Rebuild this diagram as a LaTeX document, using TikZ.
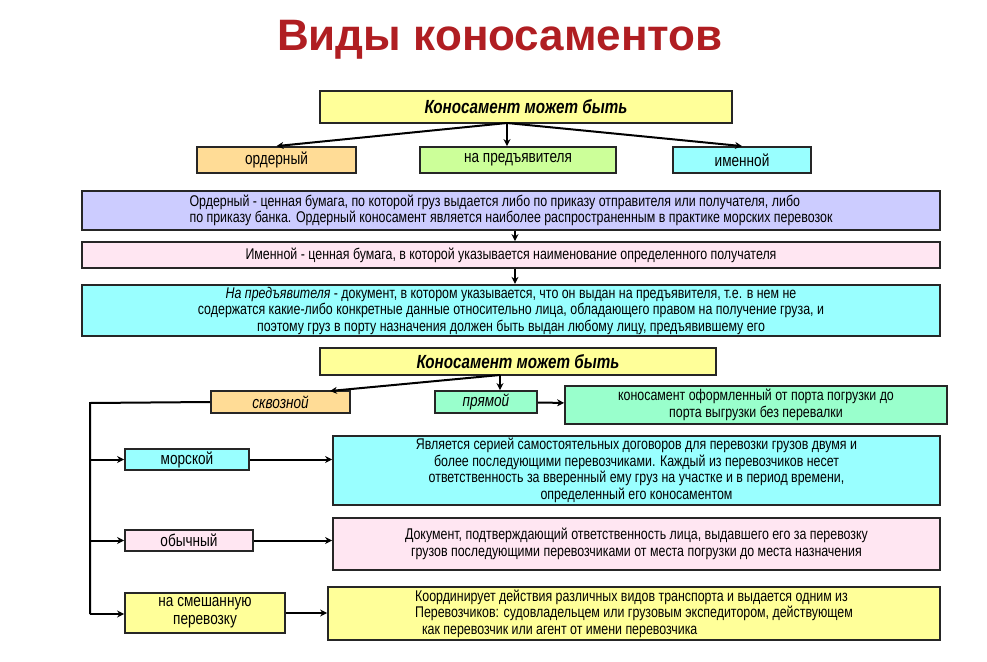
\documentclass[tikz,border=0pt]{standalone}
\usepackage{fontspec}
\setmainfont[FakeStretch=0.8]{Liberation Sans}
\newfontfamily\titlefont{Liberation Sans}
\usetikzlibrary{arrows.meta}
\definecolor{cyel}{HTML}{FFFF99}
\definecolor{ctan}{HTML}{FFDC96}
\definecolor{cgrn}{HTML}{CCFF99}
\definecolor{ccyan}{HTML}{99FFFF}
\definecolor{clav}{HTML}{CCCCFF}
\definecolor{cpink}{HTML}{FFE6F2}
\definecolor{cmint}{HTML}{99FFCC}
\definecolor{ctitle}{HTML}{B01E22}
\tikzset{
 box/.style={draw=black!85, line width=1.8pt, inner sep=2pt, align=center, font=\fontsize{15.5}{16.5}\selectfont},
 lab/.style={box, font=\fontsize{17}{19}\selectfont},
 head/.style={box, fill=cyel, font=\bfseries\itshape\fontsize{19}{21}\selectfont},
 conn/.style={line width=2pt, -{Stealth[length=7pt,width=7pt]}},
 line/.style={line width=2pt}
}
\begin{document}
\begin{tikzpicture}[x=1pt,y=-1pt]
\useasboundingbox (0,0) rectangle (987,661);
\node[font=\titlefont\bfseries\fontsize{44}{50}\selectfont, text=ctitle] (title) at (500,40) {Виды коносаментов};
% part 1
\node[head, minimum width=412, minimum height=32] (t1) at (526,107) {Коносамент может быть};
\node[lab, fill=ctan, minimum width=159, minimum height=26] (a1) at (276.5,160) {ордерный};
\node[lab, fill=cgrn, minimum width=196, minimum height=26] (a2) at (518,160) {на предъявителя};
\node[lab, fill=ccyan, minimum width=138, minimum height=26] (a3) at (742,160) {именной};
\coordinate (t1s) at (507,123);
\draw[conn] (t1s) -- (a1.north);
\draw[conn] (t1s) -- (a2.north -| t1s);
\draw[conn] (t1s) -- (a3.north);
\node[box, fill=clav, minimum width=858, minimum height=39, align=left] (d1) at (511,210.5) {Ордерный - ценная бумага, по которой груз выдается либо по приказу отправителя или получателя, либо\\по приказу банка. Ордерный коносамент является наиболее распространенным в практике морских перевозок};
\node[box, fill=cpink, minimum width=858, minimum height=26] (d2) at (511,255) {Именной - ценная бумага, в которой указывается наименование определенного получателя};
\node[box, fill=ccyan, minimum width=858, minimum height=51] (d3) at (511,310.5) {\textit{На предъявителя} - документ, в котором указывается, что он выдан на предъявителя, т.е. в нем не\\содержатся какие-либо конкретные данные относительно лица, обладающего правом на получение груза, и\\поэтому груз в порту назначения должен быть выдан любому лицу, предъявившему его};
\draw[conn] (d1.south -| 515,0) -- (d2.north -| 515,0);
\draw[conn] (d2.south -| 515,0) -- (d3.north -| 515,0);
% part 2
\node[head, minimum width=396, minimum height=27] (t2) at (518,361.5) {Коносамент может быть};
\node[lab, fill=ctan, minimum width=139, minimum height=22, font=\itshape\fontsize{17}{19}\selectfont] (s) at (280.5,402) {сквозной};
\node[lab, fill=cmint, minimum width=102, minimum height=22, font=\itshape\fontsize{17}{19}\selectfont] (p) at (486,402) {прямой};
\node[box, fill=cmint, minimum width=382, minimum height=38] (pd) at (756,405) {коносамент оформленный от порта погрузки до\\порта выгрузки без перевалки};
\coordinate (t2s) at (500,375);
\draw[conn] (t2s) -- (330,391);
\draw[conn] (t2s) -- (p.north -| t2s);
\draw[conn] (p) -- (pd);
\node[lab, fill=ccyan, minimum width=124, minimum height=21] (m) at (187,459.5) {морской};
\node[box, fill=ccyan, minimum width=607, minimum height=69] (md) at (636.5,470.5) {Является серией самостоятельных договоров для перевозки грузов двумя и\\более последующими перевозчиками. Каждый из перевозчиков несет\\ответственность за вверенный ему груз на участке и в период времени,\\определенный его коносаментом};
\node[lab, fill=cpink, minimum width=128, minimum height=21] (o) at (189,540.5) {обычный};
\node[box, fill=cpink, minimum width=607, minimum height=52] (od) at (636.5,544) {Документ, подтверждающий ответственность лица, выдавшего его за перевозку\\грузов последующими перевозчиками от места погрузки до места назначения};
\node[lab, fill=cyel, minimum width=160, minimum height=40, font=\fontsize{17}{18}\selectfont] (c) at (205,613) {на смешанную\\перевозку};
\node[box, fill=cyel, minimum width=612, minimum height=53, align=left] (cd) at (634,613.5) {Координирует действия различных видов транспорта и выдается одним из\\Перевозчиков: судовладельцем или грузовым экспедитором, действующем\\\ \ как перевозчик или агент от имени перевозчика};
\coordinate (lv) at (90,403);
\coordinate (lb) at (90,614);
\draw[line] (s.west) -- (lv) -- (lb);
\draw[conn] (lv |- m.west) -- (m.west);
\draw[conn] (lv |- o.west) -- (o.west);
\draw[conn] (lb) -- (c.west |- lb);
\draw[conn] (m.east) -- (m.east -| md.west);
\draw[conn] (o.east) -- (o.east -| od.west);
\draw[conn] (c.east) -- (c.east -| cd.west);
\end{tikzpicture}
\end{document}
